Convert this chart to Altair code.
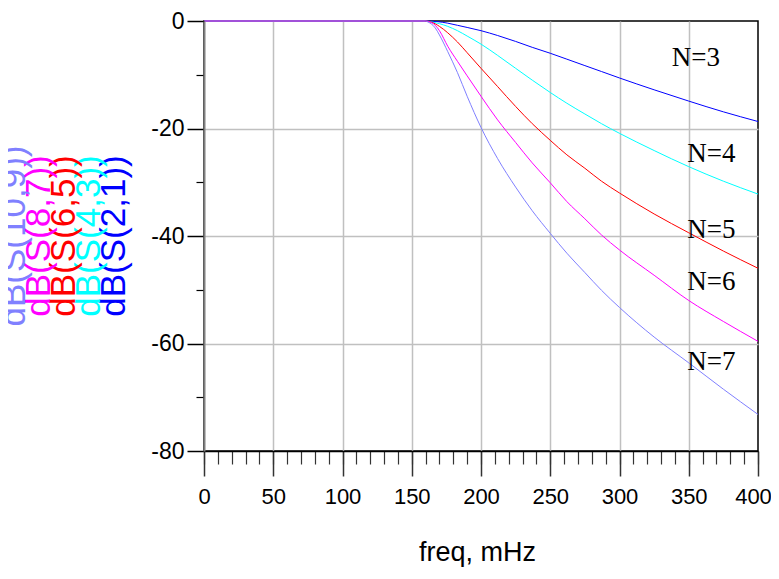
import altair as alt
import pandas as pd

# ---- data ----
series_names = ["N=3", "N=4", "N=5", "N=6", "N=7"]
series_colors = ["#0000ff", "#00ffff", "#ff0000", "#ff00ff", "#8080ff"]
trace_titles = ["dB(S(2,1))", "dB(S(4,3))", "dB(S(6,5))", "dB(S(8,7))", "dB(S(10,9))"]

freq_n3 = [0, 160, 168, 176, 183, 190, 200, 212, 225, 237, 250, 262, 275, 287, 300, 325, 350, 375, 400]
db_n3 = [0, 0, -0.1, -0.4, -0.8, -1.2, -1.8, -2.7, -3.8, -4.9, -6.0, -7.1, -8.3, -9.4, -10.6, -12.8, -14.9, -16.9, -18.7]
freq_n4 = [0, 160, 165, 170, 176, 183, 190, 200, 212, 225, 237, 250, 262, 275, 287, 300, 325, 350, 375, 400]
db_n4 = [0, 0, -0.2, -0.5, -1.0, -1.8, -2.8, -4.3, -6.4, -8.8, -11.0, -13.3, -15.3, -17.3, -19.1, -20.9, -24.1, -27.1, -29.8, -32.2]
freq_n5 = [0, 160, 164, 170, 176, 183, 190, 200, 212, 225, 237, 250, 262, 275, 287, 300, 325, 350, 375, 400]
db_n5 = [0, 0, -0.2, -1.0, -2.2, -3.9, -5.9, -8.8, -12.2, -15.9, -19.1, -22.2, -24.9, -27.4, -29.8, -32.0, -35.9, -39.4, -42.8, -46.0]
freq_n6 = [0, 160, 162, 167, 170, 176, 183, 190, 200, 212, 225, 237, 250, 262, 275, 287, 300, 325, 350, 375, 400]
db_n6 = [0, 0, -0.1, -0.8, -1.8, -4.7, -7.5, -10.2, -14.0, -18.4, -22.6, -26.4, -30.1, -33.6, -36.8, -39.8, -42.6, -47.3, -52.0, -55.9, -59.6]
freq_n7 = [0, 160, 161, 167, 170, 176, 183, 190, 200, 212, 225, 237, 250, 262, 275, 287, 300, 325, 350, 375, 400]
db_n7 = [0, 0, -0.1, -1.3, -2.6, -5.7, -9.6, -14.0, -19.8, -25.6, -30.9, -35.3, -39.5, -43.2, -46.8, -50.1, -53.3, -58.8, -63.6, -68.5, -73.2]

# annotation anchors (data coordinates)
label_freq = [337.7, 349, 349, 349, 349]
label_db = [-6.8, -24.8, -38.8, -48.5, -63.4]

x_major = list(range(0, 401, 50))
x_minor = list(range(0, 401, 10))
x_grid = list(range(50, 351, 50))
y_major = [0, -20, -40, -60, -80]
y_minor = [-10, -30, -50, -70]
y_grid = [-20, -40, -60]

# ---- build tables ----
rows = []
for name, fs, ds in zip(series_names,
                        [freq_n3, freq_n4, freq_n5, freq_n6, freq_n7],
                        [db_n3, db_n4, db_n5, db_n6, db_n7]):
    for f, d in zip(fs, ds):
        rows.append({"freq": f, "db": d, "series": name})
df = pd.DataFrame(rows)
labels_df = pd.DataFrame({"freq": label_freq, "db": label_db, "label": series_names})

SANS = "Liberation Sans Narrow, Arial Narrow, Liberation Sans, sans-serif"
xs = alt.Scale(domain=[0, 400], nice=False, zero=False)
ys = alt.Scale(domain=[-80, 0], nice=False, zero=False)
plain_label = "'' + datum.value"

base = alt.Chart(df)

# grid layer
grid_layer = base.mark_line(opacity=0).encode(
    x=alt.X("freq:Q", scale=xs, axis=alt.Axis(values=x_grid, grid=True, gridColor="#c0c0c0",
                                            gridWidth=1.5, ticks=False, labels=False, domain=False,
                                            title=None, orient="bottom", zindex=0)),
    y=alt.Y("db:Q", scale=ys, axis=alt.Axis(values=y_grid, grid=True, gridColor="#c0c0c0",
                                          gridWidth=1.5, ticks=False, labels=False, domain=False,
                                          title=None, orient="left", zindex=0)),
)

# minor tick layer
minor_layer = base.mark_line(opacity=0).encode(
    x=alt.X("freq:Q", scale=xs, axis=alt.Axis(values=x_minor, grid=False, tickSize=13, tickColor="#333333",
                                            tickWidth=1.2, labels=False, domain=False, title=None,
                                            orient="bottom", zindex=1)),
    y=alt.Y("db:Q", scale=ys, axis=alt.Axis(values=y_minor, grid=False, tickSize=8, tickColor="black",
                                          tickWidth=1.2, labels=False, domain=False, title=None,
                                          orient="left", zindex=1)),
)

# main lines with major axes
lines = base.mark_line(strokeWidth=1, interpolate="monotone").encode(
    x=alt.X("freq:Q", scale=xs, axis=alt.Axis(values=x_major, grid=False, tickSize=25, tickColor="#333333",
                                            tickWidth=1.5, domainColor="black", domainWidth=1.5,
                                            labelFont=SANS, labelFontSize=22, labelColor="black",
                                            labelPadding=10, labelFlush=False, labelExpr=plain_label,
                                            labelOffset={"condition": {"test": "datum.value == 400", "value": -5},
                                                         "value": 0},
                                            title="freq, mHz", titleFont=SANS, titleFontSize=27,
                                            titleFontWeight="normal", titleColor="black",
                                            titlePadding=32, titleX=273, orient="bottom", zindex=2)),
    y=alt.Y("db:Q", scale=ys, axis=alt.Axis(values=y_major, grid=False, tickSize=17, tickColor="black",
                                          tickWidth=1.5, domainColor="#808080", domainWidth=2,
                                          labelFont=SANS, labelFontSize=23, labelColor="black",
                                          labelPadding=3, labelFlush=False, labelExpr=plain_label,
                                          title=None, orient="left", zindex=2)),
    color=alt.Color("series:N", scale=alt.Scale(domain=series_names, range=series_colors), legend=None),
    detail="series:N",
)

labels = alt.Chart(labels_df).mark_text(font="Liberation Serif", fontSize=27, align="left",
                                         baseline="middle", color="black").encode(
    x=alt.X("freq:Q", scale=xs, axis=None),
    y=alt.Y("db:Q", scale=ys, axis=None),
    text="label:N",
)

# stacked, coloured y titles (rightmost = blue)
title_layers = []
for i, (t, c) in enumerate(zip(trace_titles, series_colors)):
    title_layers.append(
        alt.Chart(pd.DataFrame({"t": [t]})).mark_text(
            font="Liberation Sans", fontSize=35, angle=270, align="center",
            baseline="alphabetic", color=c).encode(
            x=alt.value(-79 - 25 * i), y=alt.value(215), text="t:N")
    )

chart = alt.layer(grid_layer, minor_layer, lines, labels, *title_layers).resolve_axis(
    x="independent", y="independent"
).properties(
    width=554, height=430,
    autosize=alt.AutoSizeParams(type="none"),
    padding={"left": 196, "top": 13, "right": 13, "bottom": 120},
).configure_view(stroke="black", strokeWidth=1.5)

chart.save("out.html", embed_options={"renderer": "svg", "actions": False})
